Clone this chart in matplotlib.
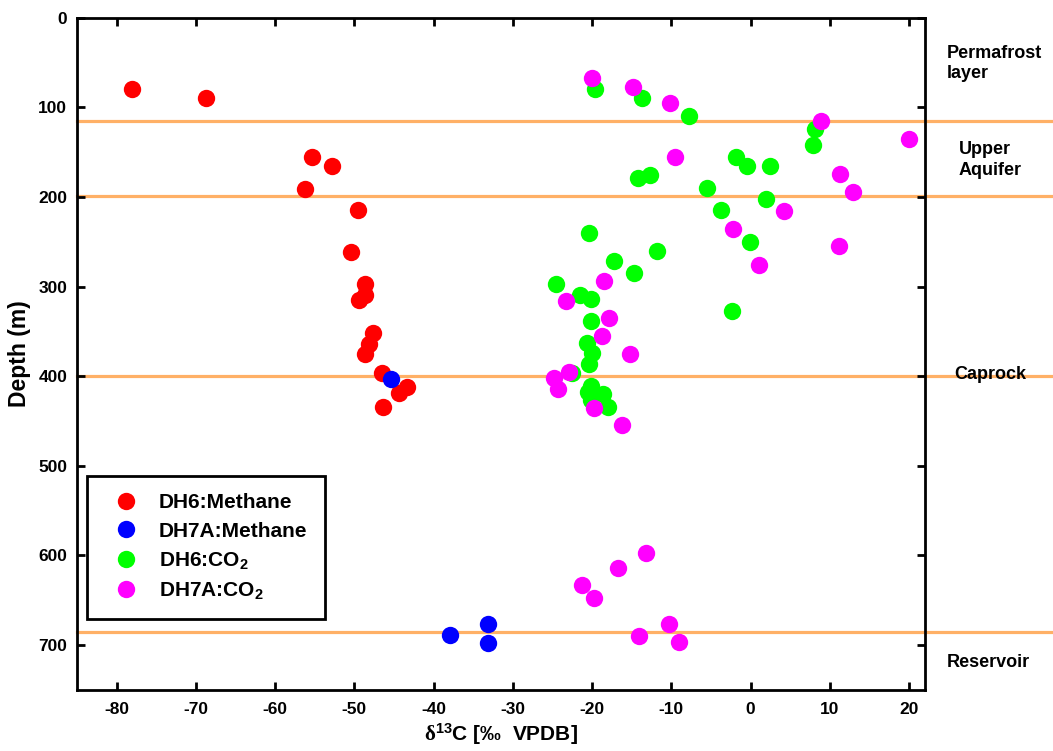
import matplotlib
matplotlib.use("Agg")
import matplotlib.pyplot as plt

plt.rcParams['font.family'] = ['Liberation Sans', 'DejaVu Sans']
plt.rcParams['font.weight'] = 'bold'
plt.rcParams['axes.unicode_minus'] = False
plt.rcParams['mathtext.fontset'] = 'custom'
plt.rcParams['mathtext.rm'] = 'Liberation Serif'
plt.rcParams['mathtext.it'] = 'Liberation Serif:italic'
plt.rcParams['mathtext.bf'] = 'Liberation Sans:bold'

# ---------------- data ----------------
dh6_ch4_d13c = [-78.0, -68.7, -55.3, -52.8, -56.2, -49.5, -50.4, -48.6, -48.6,
                -49.4, -47.6, -48.1, -48.6, -46.5, -43.3, -44.4, -46.4]
dh6_ch4_depth = [80, 90, 155, 166, 191, 215, 261, 297, 310,
                 315, 352, 364, 375, 397, 412, 419, 434]

dh7a_ch4_d13c = [-45.4, -37.9, -33.2, -33.2]
dh7a_ch4_depth = [403, 689, 677, 698]

dh6_co2_d13c = [-19.6, -13.7, -7.8, 8.1, 7.9, -1.8, -0.4, 2.4, -14.2, -12.7,
                -5.5, 1.9, -3.7, -0.1, -20.4, -11.8, -17.2, -14.7, -24.6, -21.5,
                -20.1, -2.4, -20.1, -20.7, -20.0, -20.4, -22.5, -20.2, -20.5, -18.6,
                -20.1, -18.0]
dh6_co2_depth = [80, 90, 110, 124, 142, 155, 165, 165, 179, 176,
                 190, 202, 215, 250, 240, 260, 272, 285, 297, 310,
                 314, 327, 339, 363, 374, 387, 397, 411, 418, 420,
                 427, 434]

dh7a_co2_d13c = [-20.0, -14.8, -10.2, 8.9, 20.0, -9.5, 11.3, 12.9, 4.2, -2.2,
                 1.0, 11.2, -18.5, -23.3, -17.9, -18.7, -15.2, -22.9, -24.8, -24.3,
                 -19.8, -16.2, -13.2, -16.7, -21.3, -19.8, -14.1, -10.3, -9.1]
dh7a_co2_depth = [67, 77, 95, 115, 135, 156, 174, 195, 216, 236,
                  276, 255, 294, 316, 335, 355, 375, 395, 402, 414,
                  436, 455, 597, 614, 633, 648, 690, 677, 697]

boundary_depths = [115, 199, 400, 686]
zone_lines = [['Permafrost', 'layer'], ['Upper', 'Aquifer'], ['Caprock'], ['Reservoir']]

series_labels = ['DH6:Methane', 'DH7A:Methane', r'DH6:CO$_\mathbf{2}$', r'DH7A:CO$_\mathbf{2}$']
series_colors = ['#ff0000', '#0000ff', '#00ff00', '#ff00ff']

x_ticks = list(range(-80, 21, 10))
y_ticks = list(range(0, 701, 100))

# ---------------- figure ----------------
W, H = 1053, 751
fig = plt.figure(figsize=(W / 100, H / 100), dpi=100)
ax_l, ax_r, ax_t, ax_b = 77, 925, 17.7, 689.7
ax = fig.add_axes([ax_l / W, 1 - ax_b / H, (ax_r - ax_l) / W, (ax_b - ax_t) / H])

orange = '#ffb066'
for d in boundary_depths:
    ax.axhline(d, xmin=0, xmax=(W - ax_l) / (ax_r - ax_l), color=orange,
               lw=2.3, clip_on=False, zorder=1)

data = [(dh6_ch4_d13c, dh6_ch4_depth), (dh7a_ch4_d13c, dh7a_ch4_depth),
        (dh6_co2_d13c, dh6_co2_depth), (dh7a_co2_d13c, dh7a_co2_depth)]
handles = []
for (xs, ys), c, lab in zip(data, series_colors, series_labels):
    h, = ax.plot(xs, ys, linestyle='none', marker='o', markersize=12.5,
                 markerfacecolor=c, markeredgewidth=0, color=c, label=lab, zorder=3)
    handles.append(h)

ax.set_xlim(-85, 22)
ax.set_ylim(750, 0)
ax.set_xticks(x_ticks)
ax.set_yticks(y_ticks)
ax.tick_params(axis='both', direction='in', length=6, width=2, top=True, right=True,
               labelsize=12.5)
ax.tick_params(axis='x', pad=9)
ax.tick_params(axis='y', pad=7)
for lab in ax.get_xticklabels() + ax.get_yticklabels():
    lab.set_fontweight('bold')
for sp in ax.spines.values():
    sp.set_linewidth(2)

ax.set_ylabel('Depth (m)', fontsize=16.5, fontweight='bold', labelpad=5)
ax.set_xlabel(r'$\mathrm{\delta}^{\mathbf{13}}$C [‰  VPDB]', fontsize=15,
              fontweight='bold', labelpad=3)

leg = ax.legend(handles=handles, loc='lower left', bbox_to_anchor=(0.0118, 0.105),
                borderaxespad=0, fontsize=15, frameon=True, fancybox=False,
                edgecolor='black', framealpha=1, handlelength=2.0,
                handletextpad=0.6, borderpad=0.85, labelspacing=0.45)
leg.get_frame().set_linewidth(2)
for t in leg.get_texts():
    t.set_fontweight('bold')

# zone labels (figure pixel coordinates: left x, baseline y of each line)
zone_pos = [(947, [58, 78]), (959, [154, 175]), (954, [379]), (947, [667])]
for (px, baselines), lines in zip(zone_pos, zone_lines):
    for by, txt in zip(baselines, lines):
        fig.text(px / W, 1 - by / H, txt, ha='left', va='baseline', fontsize=13,
                 fontweight='bold')

fig.savefig('out.png', dpi=100)
